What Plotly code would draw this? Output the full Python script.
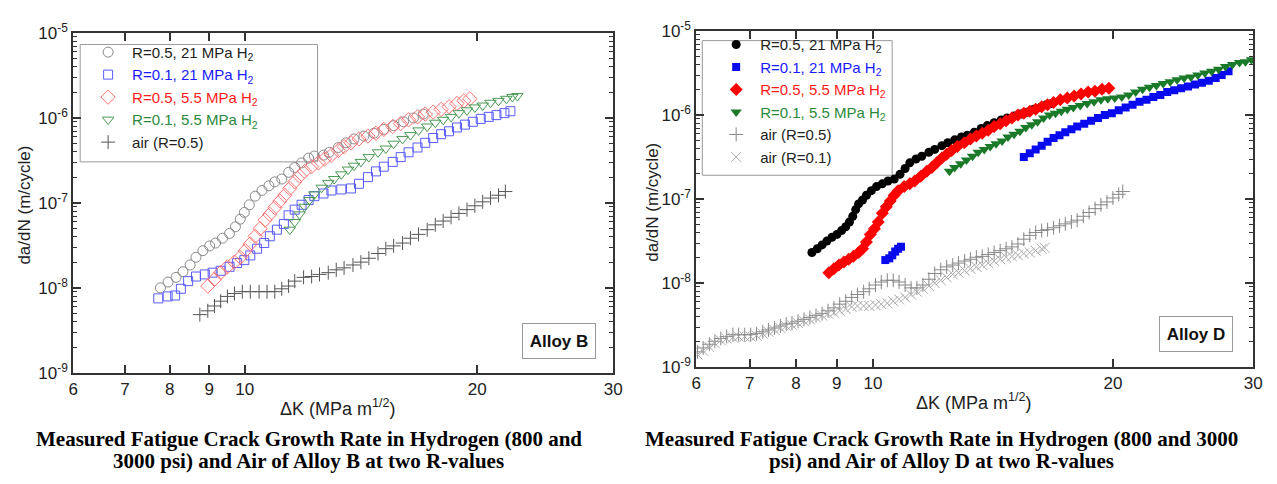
import plotly.graph_objects as go

W, H = 1277, 484

# ---------------- Alloy B (left) ----------------
b_r05_21_K = [7.78, 7.96, 8.15, 8.32, 8.50, 8.65, 8.83, 9.01, 9.17, 9.36, 9.56, 9.73, 9.87, 9.99, 10.14, 10.32, 10.53, 10.75, 10.94, 11.17, 11.40, 11.61, 11.85, 12.10, 12.31, 12.65, 12.87, 13.22, 13.53, 13.85, 14.27, 14.70, 15.14, 15.59, 16.06, 16.54, 17.03]
b_r05_21_da = [1.0e-8, 1.17e-8, 1.33e-8, 1.55e-8, 1.86e-8, 2.29e-8, 2.74e-8, 3.12e-8, 3.37e-8, 3.84e-8, 4.37e-8, 5.24e-8, 6.44e-8, 7.73e-8, 9.5e-8, 1.20e-7, 1.40e-7, 1.59e-7, 1.77e-7, 1.91e-7, 2.29e-7, 2.61e-7, 2.96e-7, 3.37e-7, 3.56e-7, 3.65e-7, 3.94e-7, 4.49e-7, 5.10e-7, 5.66e-7, 6.12e-7, 6.61e-7, 7.33e-7, 8.13e-7, 9.02e-7, 1.00e-6, 1.11e-6]

b_r01_21_K = [7.73, 7.95, 8.13, 8.27, 8.45, 8.65, 8.88, 9.09, 9.31, 9.56, 9.78, 9.99, 10.17, 10.38, 10.60, 10.78, 11.01, 11.24, 11.40, 11.61, 11.85, 12.10, 12.31, 12.65, 12.95, 13.34, 13.73, 14.06, 14.44, 14.79, 15.14, 15.55, 15.92, 16.30, 16.74, 17.13, 17.54, 17.96, 18.39, 18.83, 19.28, 19.74, 20.21, 20.70, 21.18, 21.69, 22.08]
b_r01_21_da = [7.52e-9, 7.93e-9, 8.13e-9, 9.75e-9, 1.20e-8, 1.36e-8, 1.44e-8, 1.51e-8, 1.59e-8, 1.77e-8, 1.96e-8, 2.12e-8, 2.41e-8, 2.89e-8, 3.37e-8, 4.05e-8, 4.84e-8, 5.66e-8, 7.14e-8, 8.33e-8, 9.51e-8, 1.08e-7, 1.20e-7, 1.29e-7, 1.40e-7, 1.44e-7, 1.48e-7, 1.68e-7, 2.01e-7, 2.35e-7, 2.67e-7, 3.04e-7, 3.46e-7, 3.94e-7, 4.49e-7, 5.10e-7, 5.81e-7, 6.44e-7, 6.97e-7, 7.73e-7, 8.34e-7, 9.02e-7, 9.75e-7, 1.03e-6, 1.08e-6, 1.14e-6, 1.20e-6]

b_r05_55_K = [8.96, 9.14, 9.31, 9.50, 9.70, 9.87, 10.02, 10.17, 10.32, 10.47, 10.63, 10.78, 10.94, 11.11, 11.27, 11.44, 11.61, 11.78, 11.96, 12.21, 12.46, 12.69, 12.95, 13.22, 13.45, 13.73, 14.06, 14.44, 14.79, 15.14, 15.55, 15.92, 16.30, 16.74, 17.13, 17.54, 17.96, 18.39, 18.83, 19.22, 19.56]
b_r05_55_da = [1.05e-8, 1.26e-8, 1.51e-8, 1.77e-8, 2.01e-8, 2.29e-8, 2.74e-8, 3.29e-8, 4.05e-8, 4.98e-8, 6.28e-8, 7.33e-8, 8.79e-8, 1.05e-7, 1.23e-7, 1.48e-7, 1.77e-7, 2.07e-7, 2.35e-7, 2.67e-7, 2.96e-7, 3.29e-7, 3.65e-7, 4.15e-7, 4.60e-7, 5.10e-7, 5.66e-7, 6.12e-7, 6.61e-7, 7.33e-7, 7.93e-7, 8.57e-7, 9.51e-7, 1.03e-6, 1.11e-6, 1.17e-6, 1.26e-6, 1.36e-6, 1.48e-6, 1.59e-6, 1.68e-6]

b_r01_55_K = [11.44, 11.61, 11.78, 11.96, 12.13, 12.31, 12.58, 12.83, 13.06, 13.34, 13.61, 13.85, 14.14, 14.48, 14.88, 15.23, 15.59, 16.01, 16.39, 16.79, 17.23, 17.65, 18.07, 18.50, 18.94, 19.40, 19.86, 20.33, 20.81, 21.31, 21.82, 22.21, 22.54]
b_r01_55_da = [4.84e-8, 5.96e-8, 7.33e-8, 9.02e-8, 1.08e-7, 1.26e-7, 1.51e-7, 1.72e-7, 1.91e-7, 2.17e-7, 2.47e-7, 2.74e-7, 3.04e-7, 3.46e-7, 3.94e-7, 4.37e-7, 4.98e-7, 5.66e-7, 6.28e-7, 7.14e-7, 7.93e-7, 8.79e-7, 9.51e-7, 1.03e-6, 1.14e-6, 1.23e-6, 1.33e-6, 1.40e-6, 1.51e-6, 1.59e-6, 1.68e-6, 1.77e-6, 1.81e-6]

b_air05_K = [8.75, 8.96, 9.14, 9.31, 9.50, 9.70, 9.93, 10.17, 10.44, 10.69, 10.94, 11.17, 11.40, 11.61, 11.92, 12.21, 12.50, 12.83, 13.14, 13.45, 13.81, 14.14, 14.48, 14.88, 15.23, 15.59, 16.01, 16.39, 16.79, 17.23, 17.65, 18.07, 18.50, 18.94, 19.40, 19.86, 20.33, 20.81, 21.31, 21.75]
b_air05_da = [4.84e-9, 5.37e-9, 6.12e-9, 6.97e-9, 7.93e-9, 8.57e-9, 9.02e-9, 9.02e-9, 9.02e-9, 9.02e-9, 9.02e-9, 9.75e-9, 1.05e-8, 1.20e-8, 1.33e-8, 1.36e-8, 1.44e-8, 1.51e-8, 1.63e-8, 1.72e-8, 1.86e-8, 2.01e-8, 2.23e-8, 2.54e-8, 2.89e-8, 3.12e-8, 3.37e-8, 3.84e-8, 4.26e-8, 4.84e-8, 5.52e-8, 6.12e-8, 6.78e-8, 7.52e-8, 8.33e-8, 9.25e-8, 1.03e-7, 1.14e-7, 1.23e-7, 1.36e-7]

# ---------------- Alloy D (right) ----------------
d_r05_21_K = [8.38, 8.51, 8.63, 8.75, 8.88, 9.01, 9.13, 9.24, 9.34, 9.43, 9.51, 9.59, 9.70, 9.81, 9.95, 10.10, 10.27, 10.44, 10.63, 10.81, 10.97, 11.12, 11.32, 11.51, 11.75, 11.95, 12.20, 12.41, 12.66, 12.91, 13.13, 13.40, 13.67, 13.91, 14.19, 14.48, 14.73, 15.03, 15.33, 15.59, 15.91, 16.23, 16.51, 16.75]
d_r05_21_da = [2.31e-8, 2.56e-8, 2.85e-8, 3.16e-8, 3.51e-8, 3.80e-8, 4.22e-8, 4.68e-8, 5.33e-8, 6.24e-8, 7.50e-8, 8.77e-8, 9.75e-8, 1.11e-7, 1.26e-7, 1.41e-7, 1.52e-7, 1.64e-7, 1.73e-7, 1.97e-7, 2.31e-7, 2.70e-7, 3.00e-7, 3.24e-7, 3.61e-7, 3.90e-7, 4.33e-7, 4.68e-7, 5.07e-7, 5.48e-7, 5.77e-7, 6.24e-7, 6.93e-7, 7.50e-7, 8.11e-7, 8.77e-7, 9.25e-7, 9.75e-7, 1.03e-6, 1.08e-6, 1.17e-6, 1.23e-6, 1.33e-6, 1.37e-6]

d_r01_21_K = [10.36, 10.48, 10.57, 10.66, 10.75, 10.84, 15.46, 15.73, 16.00, 16.28, 16.56, 16.85, 17.14, 17.43, 17.74, 18.04, 18.41, 18.78, 19.16, 19.54, 19.94, 20.34, 20.75, 21.17, 21.60, 22.04, 22.48, 22.94, 23.40, 23.88, 24.36, 24.85, 25.36, 25.87, 26.39, 26.92, 27.39, 27.94]
d_r01_21_da = [1.88e-8, 1.97e-8, 2.14e-8, 2.37e-8, 2.56e-8, 2.70e-8, 3.16e-7, 3.51e-7, 3.90e-7, 4.33e-7, 4.81e-7, 5.33e-7, 5.77e-7, 6.24e-7, 6.76e-7, 7.31e-7, 7.91e-7, 8.55e-7, 9.25e-7, 1.00e-6, 1.05e-6, 1.14e-6, 1.23e-6, 1.33e-6, 1.44e-6, 1.52e-6, 1.64e-6, 1.73e-6, 1.88e-6, 1.97e-6, 2.08e-6, 2.19e-6, 2.31e-6, 2.43e-6, 2.56e-6, 2.77e-6, 3.00e-6, 3.33e-6]

d_r05_55_K = [8.80, 8.93, 9.06, 9.19, 9.32, 9.45, 9.59, 9.70, 9.81, 9.92, 10.04, 10.15, 10.27, 10.39, 10.51, 10.63, 10.75, 10.94, 11.12, 11.28, 11.48, 11.68, 11.85, 12.02, 12.20, 12.37, 12.55, 12.76, 13.02, 13.25, 13.48, 13.71, 13.95, 14.19, 14.44, 14.69, 14.94, 15.20, 15.46, 15.73, 16.00, 16.28, 16.56, 16.85, 17.18, 17.53, 17.88, 18.24, 18.62, 18.99, 19.38, 19.77]
d_r05_55_da = [1.33e-8, 1.48e-8, 1.64e-8, 1.78e-8, 1.92e-8, 2.08e-8, 2.31e-8, 2.56e-8, 3.08e-8, 3.80e-8, 4.45e-8, 5.33e-8, 6.76e-8, 8.11e-8, 9.48e-8, 1.11e-7, 1.26e-7, 1.41e-7, 1.52e-7, 1.64e-7, 1.87e-7, 2.14e-7, 2.37e-7, 2.70e-7, 3.08e-7, 3.42e-7, 3.80e-7, 4.22e-7, 4.68e-7, 5.20e-7, 5.62e-7, 6.08e-7, 6.58e-7, 7.31e-7, 7.91e-7, 8.55e-7, 9.25e-7, 1.00e-6, 1.05e-6, 1.11e-6, 1.17e-6, 1.26e-6, 1.33e-6, 1.41e-6, 1.52e-6, 1.60e-6, 1.69e-6, 1.78e-6, 1.88e-6, 1.92e-6, 2.03e-6, 2.08e-6]

d_r01_55_K = [12.47, 12.66, 12.88, 13.10, 13.33, 13.55, 13.79, 14.03, 14.27, 14.52, 14.77, 15.03, 15.29, 15.55, 15.82, 16.09, 16.37, 16.66, 16.94, 17.23, 17.53, 17.84, 18.20, 18.57, 18.94, 19.32, 19.71, 20.11, 20.52, 20.94, 21.36, 21.79, 22.23, 22.68, 23.13, 23.60, 24.08, 24.57, 25.06, 25.57, 26.09, 26.61, 27.15, 27.70, 28.26, 28.84, 29.34, 29.85]
d_r01_55_da = [2.14e-7, 2.37e-7, 2.63e-7, 2.92e-7, 3.24e-7, 3.61e-7, 3.90e-7, 4.22e-7, 4.56e-7, 4.93e-7, 5.48e-7, 5.93e-7, 6.41e-7, 7.11e-7, 7.69e-7, 8.32e-7, 9.25e-7, 1.00e-6, 1.05e-6, 1.11e-6, 1.17e-6, 1.23e-6, 1.30e-6, 1.37e-6, 1.44e-6, 1.52e-6, 1.56e-6, 1.60e-6, 1.64e-6, 1.73e-6, 1.88e-6, 2.03e-6, 2.14e-6, 2.25e-6, 2.37e-6, 2.50e-6, 2.63e-6, 2.77e-6, 2.85e-6, 3.00e-6, 3.16e-6, 3.33e-6, 3.51e-6, 3.80e-6, 4.00e-6, 4.22e-6, 4.33e-6, 4.56e-6]

d_air05_K = [6.02, 6.12, 6.23, 6.33, 6.44, 6.55, 6.67, 6.78, 6.90, 7.02, 7.14, 7.27, 7.39, 7.52, 7.65, 7.78, 7.91, 8.05, 8.19, 8.33, 8.48, 8.63, 8.78, 8.93, 9.08, 9.24, 9.40, 9.56, 9.73, 9.89, 10.07, 10.24, 10.42, 10.60, 10.78, 10.97, 11.16, 11.35, 11.55, 11.75, 11.95, 12.16, 12.37, 12.59, 12.80, 13.03, 13.25, 13.48, 13.71, 13.95, 14.19, 14.44, 14.69, 14.94, 15.20, 15.46, 15.73, 16.00, 16.28, 16.56, 16.85, 17.14, 17.43, 17.74, 18.04, 18.36, 18.67, 19.00, 19.32, 19.66, 20.00, 20.34, 20.58]
d_air05_da = [1.52e-9, 1.69e-9, 1.87e-9, 2.03e-9, 2.19e-9, 2.31e-9, 2.43e-9, 2.43e-9, 2.43e-9, 2.43e-9, 2.50e-9, 2.63e-9, 2.77e-9, 2.92e-9, 3.08e-9, 3.25e-9, 3.33e-9, 3.51e-9, 3.70e-9, 3.90e-9, 4.11e-9, 4.33e-9, 4.68e-9, 5.07e-9, 5.62e-9, 6.08e-9, 6.75e-9, 7.31e-9, 7.90e-9, 8.55e-9, 9.49e-9, 1.03e-8, 1.08e-8, 1.08e-8, 1.03e-8, 9.49e-9, 8.77e-9, 8.77e-9, 9.49e-9, 1.11e-8, 1.30e-8, 1.44e-8, 1.56e-8, 1.64e-8, 1.73e-8, 1.83e-8, 1.92e-8, 2.03e-8, 2.08e-8, 2.19e-8, 2.31e-8, 2.43e-8, 2.56e-8, 2.70e-8, 2.92e-8, 3.33e-8, 3.70e-8, 4.00e-8, 4.22e-8, 4.33e-8, 4.56e-8, 4.81e-8, 5.07e-8, 5.34e-8, 5.62e-8, 6.24e-8, 6.93e-8, 7.70e-8, 8.55e-8, 9.25e-8, 1.03e-7, 1.14e-7, 1.23e-7]

d_air01_K = [6.02, 6.12, 6.23, 6.33, 6.44, 6.55, 6.67, 6.78, 6.90, 7.02, 7.14, 7.27, 7.39, 7.52, 7.65, 7.78, 7.91, 8.05, 8.19, 8.33, 8.48, 8.63, 8.78, 8.93, 9.08, 9.24, 9.40, 9.56, 9.73, 9.89, 10.07, 10.24, 10.42, 10.60, 10.78, 10.97, 11.16, 11.35, 11.55, 11.75, 11.95, 12.16, 12.37, 12.59, 12.80, 13.03, 13.25, 13.48, 13.71, 13.95, 14.19, 14.44, 14.69, 14.94, 15.20, 15.46, 15.73, 16.00, 16.28, 16.42]
d_air01_da = [1.41e-9, 1.56e-9, 1.73e-9, 1.92e-9, 2.08e-9, 2.19e-9, 2.25e-9, 2.31e-9, 2.31e-9, 2.31e-9, 2.37e-9, 2.50e-9, 2.63e-9, 2.77e-9, 2.92e-9, 3.08e-9, 3.16e-9, 3.33e-9, 3.51e-9, 3.70e-9, 3.90e-9, 4.11e-9, 4.33e-9, 4.44e-9, 4.68e-9, 4.93e-9, 5.20e-9, 5.34e-9, 5.34e-9, 5.34e-9, 5.48e-9, 5.62e-9, 5.77e-9, 6.08e-9, 6.41e-9, 6.75e-9, 7.31e-9, 7.90e-9, 8.55e-9, 9.25e-9, 1.00e-8, 1.08e-8, 1.17e-8, 1.27e-8, 1.33e-8, 1.41e-8, 1.48e-8, 1.56e-8, 1.64e-8, 1.73e-8, 1.83e-8, 1.92e-8, 2.03e-8, 2.08e-8, 2.14e-8, 2.25e-8, 2.31e-8, 2.43e-8, 2.56e-8, 2.63e-8]

x_tickvals = [6, 7, 8, 9, 10, 20, 30]
x_ticktext = ["6", "7", "8", "9", "10", "20", "30"]
y_tickvals = [1e-9, 1e-8, 1e-7, 1e-6, 1e-5]
y_ticktext = ["10<sup>-9</sup>", "10<sup>-8</sup>", "10<sup>-7</sup>", "10<sup>-6</sup>", "10<sup>-5</sup>"]

names = ["R=0.5, 21 MPa H<sub>2</sub>", "R=0.1, 21 MPa H<sub>2</sub>",
         "R=0.5, 5.5 MPa H<sub>2</sub>", "R=0.1, 5.5 MPa H<sub>2</sub>",
         "air (R=0.5)", "air (R=0.1)"]
text_colors = ["#222222", "#1a1aff", "#ff1a1a", "#2a8a3a", "#222222", "#222222"]

def nm(i):
    return f'<span style="color:{text_colors[i]}">{names[i]}</span>'

FONT = "Liberation Sans, Arial, Helvetica, sans-serif"

fig = go.Figure()

left_specs = [
    (b_r05_21_K, b_r05_21_da, "circle-open", "#8a8a8a", 10),
    (b_r01_21_K, b_r01_21_da, "square-open", "#5a5aff", 9),
    (b_r05_55_K, b_r05_55_da, "diamond-open", "#ff7070", 11),
    (b_r01_55_K, b_r01_55_da, "triangle-down-open", "#4a9a55", 10),
]
for i, (k, d, sym, col, sz) in enumerate(left_specs):
    fig.add_trace(go.Scatter(x=k, y=d, mode="markers", name=nm(i),
                             marker=dict(symbol=sym, color=col, size=sz, line=dict(width=1, color=col)),
                             xaxis="x", yaxis="y", legend="legend"))
fig.add_trace(go.Scatter(x=b_air05_K, y=b_air05_da, mode="markers", name=nm(4),
                         marker=dict(symbol="cross-thin", size=10, color="#555555",
                                     line=dict(width=1, color="#555555")),
                         xaxis="x", yaxis="y", legend="legend"))

right_specs = [
    (d_r05_21_K, d_r05_21_da, "circle", "#000000", 9),
    (d_r01_21_K, d_r01_21_da, "square", "#0a0aee", 8),
    (d_r05_55_K, d_r05_55_da, "diamond", "#ff0000", 10),
    (d_r01_55_K, d_r01_55_da, "triangle-down", "#1a7a2a", 10),
]
for i, (k, d, sym, col, sz) in enumerate(right_specs):
    fig.add_trace(go.Scatter(x=k, y=d, mode="markers", name=nm(i),
                             marker=dict(symbol=sym, color=col, size=sz, line=dict(width=0)),
                             xaxis="x2", yaxis="y2", legend="legend2"))
fig.add_trace(go.Scatter(x=d_air05_K, y=d_air05_da, mode="markers", name=nm(4),
                         marker=dict(symbol="cross-thin", size=10, color="#888888",
                                     line=dict(width=1, color="#888888")),
                         xaxis="x2", yaxis="y2", legend="legend2"))
fig.add_trace(go.Scatter(x=d_air01_K, y=d_air01_da, mode="markers", name=nm(5),
                         marker=dict(symbol="x-thin", size=10, color="#aaaaaa",
                                     line=dict(width=1, color="#aaaaaa")),
                         xaxis="x2", yaxis="y2", legend="legend2"))

def px(x):
    return x / W

def py(y):
    return 1 - y / H

minor_vals = [m * 10.0 ** e for e in range(-9, -5) for m in range(2, 10)]

def xaxis(dom, anchor):
    return dict(type="log", range=[0.77815, 1.47712], domain=dom, anchor=anchor,
                tickmode="array", tickvals=x_tickvals, ticktext=x_ticktext,
                ticks="inside", ticklen=8, tickwidth=1.5, tickcolor="#333",
                showline=True, linecolor="#333", linewidth=2, mirror="ticks",
                showgrid=False, zeroline=False,
                tickfont=dict(family=FONT, size=17, color="#222"))

def yaxis(dom, anchor):
    return dict(type="log", range=[-9, -5], domain=dom, anchor=anchor,
                tickmode="array", tickvals=y_tickvals, ticktext=y_ticktext,
                ticks="inside", ticklen=8, tickwidth=1.5, tickcolor="#333",
                minor=dict(tickmode="array", tickvals=minor_vals, ticks="inside",
                           ticklen=4, tickwidth=1, tickcolor="#333"),
                showline=True, linecolor="#333", linewidth=2, mirror="ticks",
                showgrid=False, zeroline=False,
                tickfont=dict(family=FONT, size=17, color="#222"))

legend_common = dict(bgcolor="rgba(0,0,0,0)", borderwidth=0, itemwidth=38,
                     font=dict(family=FONT, size=15, color="#222"),
                     xanchor="left", yanchor="top", itemsizing="trace")

shapes = [
    dict(type="rect", xref="paper", yref="paper", x0=px(76), x1=px(316), y0=py(157), y1=py(34),
         line=dict(color="#999", width=1), fillcolor="white", layer="below"),
    dict(type="rect", xref="paper", yref="paper", x0=px(705), x1=px(897), y0=py(171), y1=py(30),
         line=dict(color="#999", width=1), fillcolor="white", layer="below"),
]

ann = []
for cx, cy in [(20, 202), (655, 199)]:
    ann.append(dict(x=px(cx), y=py(cy), xref="paper", yref="paper", text="da/dN (m/cycle)",
                    xanchor="center", yanchor="middle",
                    textangle=-90, showarrow=False, font=dict(family=FONT, size=17, color="#222")))
for cx, cy in [(337, 414), (980, 408)]:
    ann.append(dict(x=px(cx), y=py(cy), xref="paper", yref="paper",
                    text="\u0394K (MPa m<sup>1/2</sup>)", xanchor="center", yanchor="middle",
                    showarrow=False, font=dict(family=FONT, size=18, color="#222")))
for cx, cy, t in [(560, 345, "Alloy B"), (1204, 337, "Alloy D")]:
    ann.append(dict(x=px(cx), y=py(cy), xref="paper", yref="paper", text=f"<b>{t}</b>",
                    xanchor="center", yanchor="middle",
                    showarrow=False, bordercolor="#999", borderwidth=1, borderpad=0,
                    width=72, height=34, bgcolor="white",
                    font=dict(family=FONT, size=17, color="#111")))
CAP = "Liberation Serif, Times New Roman, serif"
caps = [(307, 447, "Measured Fatigue Crack Growth Rate in Hydrogen (800 and"),
        (307, 470, "3000 psi) and Air of Alloy B at two R-values"),
        (947, 447, "Measured Fatigue Crack Growth Rate in Hydrogen (800 and 3000"),
        (947, 470, "psi) and Air of Alloy D at two R-values")]
for cx, cy, t in caps:
    ann.append(dict(x=px(cx), y=py(cy), xref="paper", yref="paper", text=f"<b>{t}</b>",
                    xanchor="center", yanchor="middle",
                    showarrow=False, font=dict(family=CAP, size=21, color="#000")))

fig.update_layout(
    width=W, height=H, margin=dict(l=0, r=0, t=0, b=0),
    paper_bgcolor="white", plot_bgcolor="white",
    font=dict(family=FONT),
    xaxis=xaxis([px(69), px(615)], "y"),
    yaxis=yaxis([py(378), py(22)], "x"),
    xaxis2=xaxis([px(699), px(1262)], "y2"),
    yaxis2=yaxis([py(372), py(20)], "x2"),
    legend=dict(x=px(80), y=py(25), **legend_common),
    legend2=dict(x=px(715), y=py(17), **legend_common),
    annotations=ann,
    shapes=shapes,
    showlegend=True,
)

fig.write_html("out.html")
